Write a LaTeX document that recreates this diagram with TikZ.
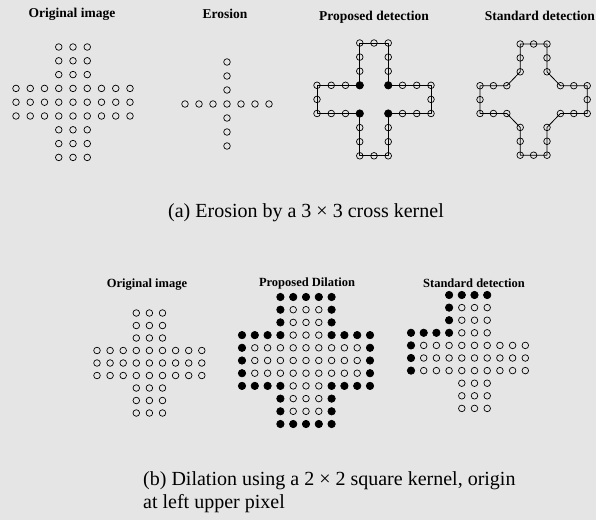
\documentclass[tikz,border=0pt]{standalone}
\usepackage{fontspec}
\setmainfont{Liberation Serif}
\usetikzlibrary{positioning}

\begin{document}
\begin{tikzpicture}[x=1pt,y=-1pt,
  pix/.style={circle,draw,inner sep=0pt,minimum size=6.6pt,line width=0.7pt},
  blob/.style={pix,fill=black,minimum size=7.4pt},
  ttl/.style={font=\fontsize{13.5}{15}\selectfont\bfseries,anchor=base},
  ttlb/.style={ttl,font=\fontsize{12.5}{14}\selectfont\bfseries},
  capt/.style={font=\fontsize{20}{23}\selectfont,inner sep=0pt},
  rim/.style={line width=0.8pt,line join=round}]
\fill[black!10] (0,0) rectangle (596,520);
\useasboundingbox (0,0) rectangle (596,520);

% (a) erosion
\node[ttl] (t1) at (72,17.5) {Original image};
\node[ttl] (t2) at (225,18) {Erosion};
\node[ttl] (t3) at (374,20) {Proposed detection};
\node[ttl,anchor=base east,inner sep=0pt] (t4) at (595,20.5) {Standard detection};

\begin{scope}[shift={(16,47)},x=14.25pt,y=-13.8pt]
\foreach \r in {0,...,8}
  \foreach \c in {0,...,8}{
    \pgfmathtruncatemacro\ok{(\c>2 && \c<6) || (\r>2 && \r<6)}
    \ifnum\ok=1 \node[pix] (ao-\c-\r) at (\c,\r) {}; \fi}
\end{scope}

\begin{scope}[shift={(227,104)},x=14pt,y=-14pt]
\foreach \k in {-3,...,3}{
  \node[pix] (er-h\k) at (\k,0) {};
  \ifnum\k=0 \else \node[pix] (er-v\k) at (0,\k) {}; \fi}
\end{scope}

\begin{scope}[shift={(317,43)},x=14.25pt,y=-14.1pt]
\foreach \c/\r in {3/0,4/0,5/0,3/1,5/1,3/2,5/2,0/3,1/3,2/3,6/3,7/3,8/3,0/4,8/4,
                   0/5,1/5,2/5,6/5,7/5,8/5,3/6,5/6,3/7,5/7,3/8,4/8,5/8}
  \node[pix] (pd-\c-\r) at (\c,\r) {};
\foreach \c/\r in {3/3,5/3,3/5,5/5}
  \node[blob] (pd-\c-\r) at (\c,\r) {};
\draw[rim] (pd-3-0.center) -- (pd-5-0.center) -- (pd-5-3.center) -- (pd-8-3.center)
  -- (pd-8-5.center) -- (pd-5-5.center) -- (pd-5-8.center) -- (pd-3-8.center)
  -- (pd-3-5.center) -- (pd-0-5.center) -- (pd-0-3.center) -- (pd-3-3.center) -- cycle;
\end{scope}

\begin{scope}[shift={(480,44)},x=13.4pt,y=-13.9pt]
\foreach \c/\r in {3/0,4/0,5/0,3/1,5/1,3/2,5/2,0/3,1/3,2/3,6/3,7/3,8/3,0/4,8/4,
                   0/5,1/5,2/5,6/5,7/5,8/5,3/6,5/6,3/7,5/7,3/8,4/8,5/8}
  \node[pix] (sd-\c-\r) at (\c,\r) {};
\draw[rim] (sd-3-0.center) -- (sd-5-0.center) -- (sd-5-2.center) -- (sd-6-3.center)
  -- (sd-8-3.center) -- (sd-8-5.center) -- (sd-6-5.center) -- (sd-5-6.center)
  -- (sd-5-8.center) -- (sd-3-8.center) -- (sd-3-6.center) -- (sd-2-5.center)
  -- (sd-0-5.center) -- (sd-0-3.center) -- (sd-2-3.center) -- (sd-3-2.center) -- cycle;
\end{scope}

\node[capt,anchor=base] (capa) at (306,217.5) {(a) Erosion by a 3 × 3 cross kernel};

% (b) dilation
\node[ttlb] (b1) at (147,287) {Original image};
\node[ttlb] (b2) at (307,286) {Proposed Dilation};
\node[ttlb] (b3) at (474,287) {Standard detection};

\begin{scope}[shift={(97,313)},x=13.1pt,y=-12.5pt]
\foreach \r in {0,...,8}
  \foreach \c in {0,...,8}{
    \pgfmathtruncatemacro\ok{(\c>2 && \c<6) || (\r>2 && \r<6)}
    \ifnum\ok=1 \node[pix] (bo-\c-\r) at (\c,\r) {}; \fi}
\end{scope}

\begin{scope}[shift={(242,297)},x=12.8pt,y=-12.7pt]
\foreach \r in {0,...,10}
  \foreach \c in {0,...,10}{
    \pgfmathtruncatemacro\ok{(\c>3 && \c<7 && \r>0 && \r<10) || (\r>3 && \r<7 && \c>0 && \c<10)}
    \pgfmathtruncatemacro\dil{(\c>2 && \c<8) || (\r>2 && \r<8)}
    \ifnum\ok=1 \node[pix] (pl-\c-\r) at (\c,\r) {};
    \else \ifnum\dil=1 \node[blob] (pl-\c-\r) at (\c,\r) {}; \fi \fi}
\end{scope}

\begin{scope}[shift={(411,295)},x=12.7pt,y=-12.6pt]
\foreach \r in {0,...,9}
  \foreach \c in {0,...,9}{
    \pgfmathtruncatemacro\ok{(\c>3 && \c<7 && \r>0) || (\r>3 && \r<7 && \c>0)}
    \ifnum\ok=1 \node[pix] (sl-\c-\r) at (\c,\r) {}; \fi}
\foreach \c/\r in {3/0,4/0,5/0,6/0,3/1,3/2,0/3,1/3,2/3,3/3,0/4,0/5,0/6}
  \node[blob] (sl-\c-\r) at (\c,\r) {};
\end{scope}

\node[capt,anchor=base west,align=left] (capb) at (143,508)
  {(b) Dilation using a 2 × 2 square kernel, origin\\at left upper pixel};
\end{tikzpicture}
\end{document}
